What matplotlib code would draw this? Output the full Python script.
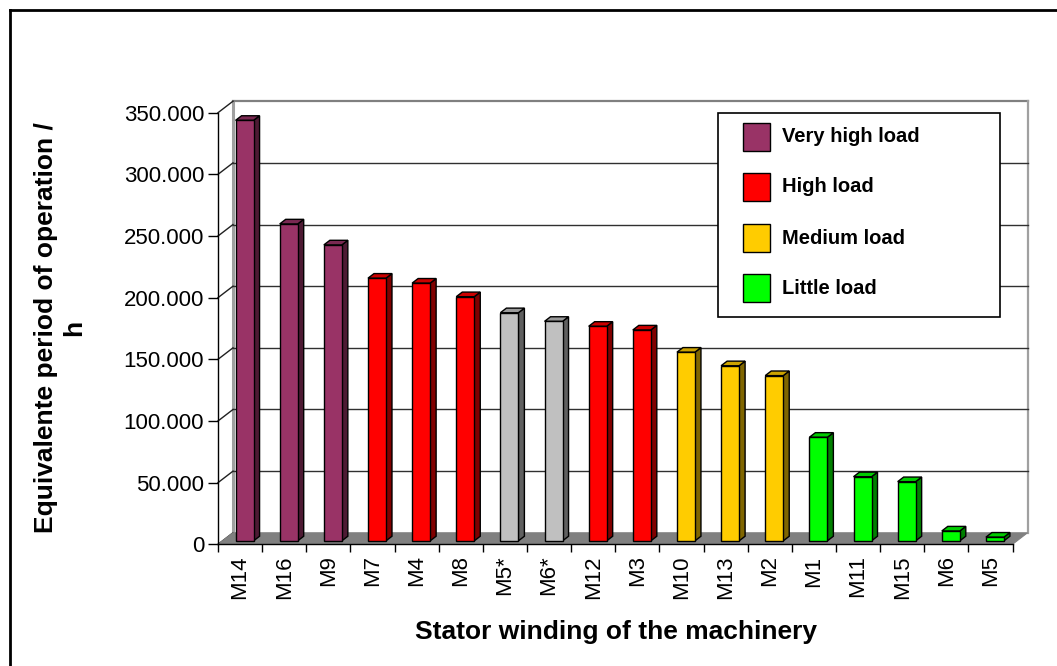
import matplotlib
matplotlib.use("Agg")
import matplotlib.pyplot as plt
from matplotlib.patches import Polygon, Rectangle
from matplotlib.lines import Line2D
from matplotlib.ticker import FixedLocator, FuncFormatter

plt.rcParams['font.family'] = ['Liberation Sans', 'DejaVu Sans']

# ---------------- data ----------------
categories = ["M14", "M16", "M9", "M7", "M4", "M8", "M5*", "M6*", "M12",
              "M3", "M10", "M13", "M2", "M1", "M11", "M15", "M6", "M5"]
values = [341000, 257000, 240000, 213000, 209000, 198000, 185000, 178000,
          174000, 171000, 153000, 142000, 134000, 84000, 52000, 48000,
          8000, 3000]
load_class = ["very_high", "very_high", "very_high", "high", "high", "high",
              "none", "none", "high", "high", "medium", "medium", "medium",
              "little", "little", "little", "little", "little"]
legend_labels = ["Very high load", "High load", "Medium load", "Little load"]
legend_keys = ["very_high", "high", "medium", "little"]
y_ticks = [0, 50000, 100000, 150000, 200000, 250000, 300000, 350000]

# colours: (front, top, side)
colors = {
    "very_high": ("#993366", "#7a2952", "#4d1a33"),
    "high": ("#ff0000", "#cc0000", "#800000"),
    "medium": ("#ffcc00", "#cca300", "#806600"),
    "little": ("#00ff00", "#00cc00", "#008000"),
    "none": ("#c0c0c0", "#9a9a9a", "#606060"),
}

W, H = 1057, 666
fig = plt.figure(figsize=(W / 100, H / 100), dpi=100)

def fx(px):
    return px / W

def fy(py):
    return 1 - py / H

# plot area (front plane)
x_left, x_right = 218, 1012.5
y_zero, y_top = 544.3, 112.7
ax = fig.add_axes([fx(x_left), fy(y_zero), fx(x_right) - fx(x_left),
                   fy(y_top) - fy(y_zero)])
n = len(categories)
ymax = 350000
ax.set_xlim(0, n)
ax.set_ylim(0, ymax)
ax.patch.set_visible(False)

px_per_cat = (x_right - x_left) / n
px_per_val = (y_zero - y_top) / ymax
DX = 15 / px_per_cat          # depth offset in category units
DY = 11.5 / px_per_val        # depth offset in value units

wall_col = "#808080"
grid_col = "#303030"

# back wall and side wall lines
ax.add_line(Line2D([DX, DX], [DY, ymax + DY], color="#a0a0a0", lw=2.2,
                   clip_on=False, zorder=1))
ax.add_line(Line2D([DX, n + DX], [ymax + DY, ymax + DY], color=wall_col,
                   lw=1.6, clip_on=False, zorder=1))
ax.add_line(Line2D([n + DX, n + DX], [DY, ymax + DY], color="#a0a0a0",
                   lw=1.6, clip_on=False, zorder=1))
for t in y_ticks[1:-1]:
    ax.add_line(Line2D([DX, n + DX], [t + DY, t + DY], color=grid_col,
                       lw=1.0, clip_on=False, zorder=1))
for t in y_ticks:
    ax.add_line(Line2D([0, DX], [t, t + DY], color="#202020", lw=1.0,
                       clip_on=False, zorder=1))

# floor
ax.add_patch(Polygon([(0, 0), (n, 0), (n + DX, DY), (DX, DY)], closed=True,
                     facecolor="#808080", edgecolor="#808080", lw=0.8,
                     clip_on=False, zorder=2))

# bars
bar_w = 18 / px_per_cat
f0, f1 = 0.30, 0.70
for i, (v, c) in enumerate(zip(values, load_class)):
    front, top, side = colors[c]
    cx = i + 0.5
    x0 = cx - bar_w / 2 + f0 * DX
    x1 = cx + bar_w / 2 + f0 * DX
    y0 = f0 * DY
    y1 = v + f0 * DY
    ddx = (f1 - f0) * DX
    ddy = (f1 - f0) * DY
    ax.add_patch(Polygon([(x1, y0), (x1 + ddx, y0 + ddy), (x1 + ddx, y1 + ddy),
                          (x1, y1)], closed=True, facecolor=side,
                         edgecolor="black", lw=1.0, clip_on=False, zorder=3))
    ax.add_patch(Polygon([(x0, y1), (x1, y1), (x1 + ddx, y1 + ddy),
                          (x0 + ddx, y1 + ddy)], closed=True, facecolor=top,
                         edgecolor="black", lw=1.0, clip_on=False, zorder=3))
    ax.add_patch(Polygon([(x0, y0), (x1, y0), (x1, y1), (x0, y1)], closed=True,
                         facecolor=front, edgecolor="black", lw=1.0,
                         clip_on=False, zorder=4))

# axes styling
for s in ["top", "right"]:
    ax.spines[s].set_visible(False)
ax.spines["left"].set_color("black")
ax.spines["bottom"].set_color("black")
ax.spines["left"].set_linewidth(1.0)
ax.spines["bottom"].set_linewidth(1.0)
ax.spines["left"].set_zorder(5)
ax.spines["bottom"].set_zorder(5)

ax.yaxis.set_major_locator(FixedLocator(y_ticks))
ax.yaxis.set_major_formatter(FuncFormatter(
    lambda v, p: "0" if v == 0 else f"{int(v):,}".replace(",", ".")))
ax.tick_params(axis="y", direction="out", length=7, width=1, pad=3,
               labelsize=16, color="black")
ax.xaxis.set_major_locator(FixedLocator(range(n + 1)))
ax.set_xticks([i + 0.5 for i in range(n)], minor=True)
ax.set_xticklabels([], minor=False)
ax.set_xticklabels(categories, minor=True, rotation=90, fontsize=16)
ax.tick_params(axis="x", which="major", direction="out", length=6, width=1)
ax.tick_params(axis="x", which="minor", length=0, pad=8)

# axis titles
fig.text(fx(60), fy(328), "Equivalente period of operation /\nh",
         rotation=90, ha="center", va="center", multialignment="center",
         fontsize=19, fontweight="bold", linespacing=1.25)
fig.text(fx(616), fy(632), "Stator winding of the machinery", ha="center",
         va="center", fontsize=19, fontweight="bold")

# legend (manual box)
fig.patches.append(Rectangle((fx(718), fy(317)), fx(1000) - fx(718),
                             fy(113) - fy(317), transform=fig.transFigure,
                             facecolor="white", edgecolor="black", lw=1.2,
                             zorder=6))
row_y = [137, 187, 238, 288]
for lab, key, ry in zip(legend_labels, legend_keys, row_y):
    fig.patches.append(Rectangle((fx(743), fy(ry + 14)), fx(770) - fx(743),
                                 fy(ry - 14) - fy(ry + 14),
                                 transform=fig.transFigure,
                                 facecolor=colors[key][0], edgecolor="black",
                                 lw=1.0, zorder=7))
    fig.text(fx(782), fy(ry), lab, ha="left", va="center", fontsize=14.5,
             fontweight="bold", zorder=8)

# outer border (left and top)
fig.lines.append(Line2D([fx(10), fx(10)], [fy(10), 0], color="black", lw=2,
                        transform=fig.transFigure))
fig.lines.append(Line2D([fx(10), 1], [fy(10), fy(10)], color="black", lw=2,
                        transform=fig.transFigure))

fig.savefig("out.png", dpi=100)
